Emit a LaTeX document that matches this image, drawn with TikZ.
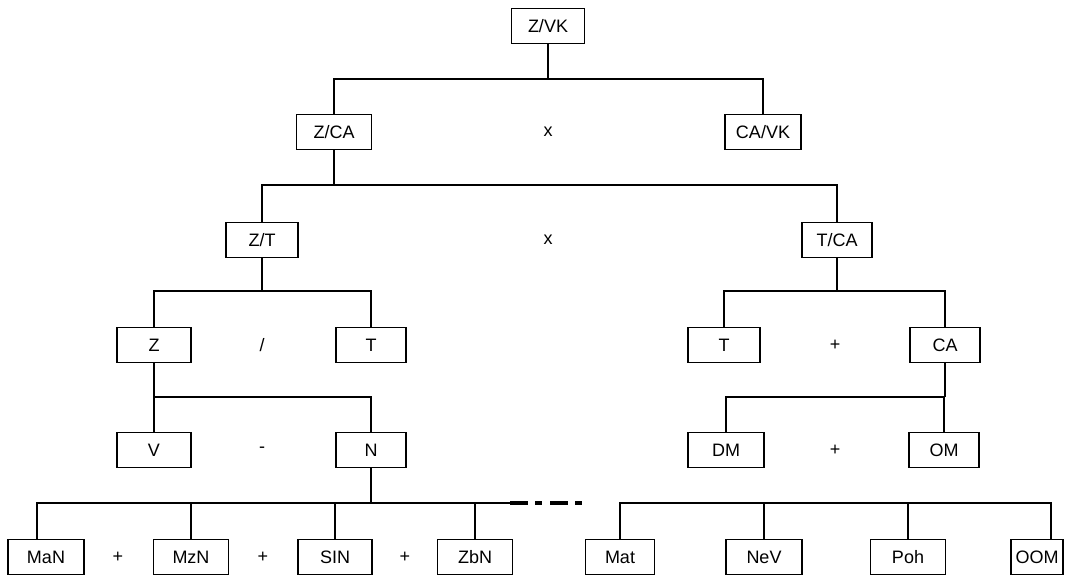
\documentclass[tikz,border=0pt]{standalone}
\usepackage{fontspec}
\setmainfont{Liberation Sans}
\begin{document}
\begin{tikzpicture}[x=1pt,y=-1pt,
  box/.style={draw, line width=1.6pt, minimum height=35pt, inner sep=0pt, font=\fontsize{18}{21}\selectfont},
  op/.style={font=\fontsize{18}{21}\selectfont, inner sep=0pt},
  conn/.style={line width=1.6pt},
  dashdot/.style={line width=3.2pt, dash pattern=on 18pt off 7pt on 7pt off 8pt}]
\useasboundingbox (0,0) rectangle (1074,576);
% level 1
\node[box, minimum width=73pt] (zvk) at (548,26) {Z/VK};
% level 2
\node[box, minimum width=75pt] (zca) at (334,132) {Z/CA};
\node[box, minimum width=76pt] (cavk) at (763,132) {CA/VK};
\node[op] (x1) at (548,132) {x};
% level 3
\node[box, minimum width=72pt] (zt) at (262,240) {Z/T};
\node[box, minimum width=70pt] (tca) at (837,240) {T/CA};
\node[op] (x2) at (548,240) {x};
% level 4
\node[box, minimum width=74pt] (z) at (154,345) {Z};
\node[box, minimum width=70pt] (t1) at (371,345) {T};
\node[op] (o1) at (262,345) {/};
\node[box, minimum width=72pt] (t2) at (724,345) {T};
\node[box, minimum width=70pt] (ca) at (945,345) {CA};
\node[op] (o2) at (835,345) {+};
% level 5
\node[box, minimum width=74pt] (v) at (154,450) {V};
\node[box, minimum width=70pt] (n) at (371,450) {N};
\node[op] (o3) at (262,450) {-};
\node[box, minimum width=76pt] (dm) at (726,450) {DM};
\node[box, minimum width=70pt] (om) at (944,450) {OM};
\node[op] (o4) at (835,450) {+};
% level 6
\node[box, minimum width=76pt] (man) at (46,557) {MaN};
\node[box, minimum width=75pt] (mzn) at (191,557) {MzN};
\node[box, minimum width=74pt] (sln) at (335,557) {SIN};
\node[box, minimum width=75pt] (zbn) at (475,557) {ZbN};
\node[op] (p1) at (118,557) {+};
\node[op] (p2) at (263,557) {+};
\node[op] (p3) at (405,557) {+};
\node[box, minimum width=69pt] (mat) at (620,557) {Mat};
\node[box, minimum width=76pt] (nev) at (764,557) {NeV};
\node[box, minimum width=75pt] (poh) at (908,557) {Poh};
\node[box, minimum width=52pt] (oom) at (1037,557) {OOM};
% connectors
\coordinate (b1) at (0,79);
\coordinate (b2) at (0,185);
\coordinate (b3) at (0,291);
\coordinate (b4) at (0,397);
\coordinate (b5) at (0,503);
\coordinate (manx) at (37,0);
\coordinate (oomx) at (1051,0);
\coordinate (leftend) at (510,503);
\coordinate (dashend) at (585,503);
\draw[conn] (zvk.south) -- (zvk.south |- b1);
\draw[conn] (zca.north) -- (zca.north |- b1) -- (cavk.north |- b1) -- (cavk.north);
\draw[conn] (zca.south) -- (zca.south |- b2);
\draw[conn] (zt.north) -- (zt.north |- b2) -- (tca.north |- b2) -- (tca.north);
\draw[conn] (zt.south) -- (zt.south |- b3);
\draw[conn] (z.north) -- (z.north |- b3) -- (t1.north |- b3) -- (t1.north);
\draw[conn] (tca.south) -- (tca.south |- b3);
\draw[conn] (t2.north) -- (t2.north |- b3) -- (ca.north |- b3) -- (ca.north);
\draw[conn] (z.south) -- (z.south |- b4);
\draw[conn] (v.north) -- (v.north |- b4) -- (n.north |- b4) -- (n.north);
\draw[conn] (ca.south) -- (ca.south |- b4);
\draw[conn] (dm.north) -- (dm.north |- b4) -- (om.north |- b4) -- (om.north);
\draw[conn] (n.south) -- (n.south |- b5);
\draw[conn] (man.north -| manx) -- (manx |- b5) -- (leftend);
\draw[conn] (mzn.north) -- (mzn.north |- b5);
\draw[conn] (sln.north) -- (sln.north |- b5);
\draw[conn] (zbn.north) -- (zbn.north |- b5);
\draw[dashdot] (leftend) -- (dashend);
\draw[conn] (mat.north) -- (mat.north |- b5) -- (oomx |- b5) -- (oom.north -| oomx);
\draw[conn] (nev.north) -- (nev.north |- b5);
\draw[conn] (poh.north) -- (poh.north |- b5);
\end{tikzpicture}
\end{document}
